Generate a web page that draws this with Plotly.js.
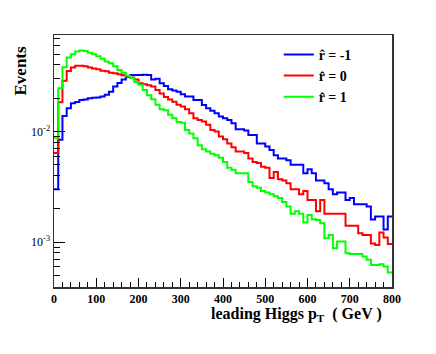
<!DOCTYPE html>
<html>
<head>
<meta charset="utf-8">
<script src="https://cdn.plot.ly/plotly-3.0.1.min.js"></script>
<style>
  html, body { margin: 0; padding: 0; background: #fff; }
  #plot { width: 436px; height: 354px; }
</style>
</head>
<body>
<div id="plot"></div>
<script>
// leading Higgs pT, 10 GeV bins from 0 to 800
const binWidth = 10;

const rMinus1 = [
  0.0030, 0.0084, 0.0138, 0.0162, 0.0180, 0.0185, 0.0193, 0.0195, 0.0200, 0.0202,
  0.0203, 0.0207, 0.0215, 0.0229, 0.0255, 0.0275, 0.0296, 0.0313, 0.0324, 0.0324,
  0.0324, 0.0326, 0.0324, 0.0296, 0.0300, 0.0273, 0.0258, 0.0241, 0.0235, 0.0229,
  0.0217, 0.0207, 0.0207, 0.0193, 0.0193, 0.0174, 0.0162, 0.0154, 0.0146, 0.0137,
  0.0132, 0.0127, 0.0119, 0.0105, 0.0105, 0.0102, 0.0093, 0.0093, 0.0078, 0.0078,
  0.0073, 0.0068, 0.0061, 0.0057, 0.0057, 0.0055, 0.0050, 0.0050, 0.0050, 0.0042,
  0.00455, 0.0042, 0.0036, 0.0036, 0.0034, 0.0030, 0.0027, 0.0028, 0.0028, 0.0024,
  0.0025, 0.0022, 0.0022, 0.0022, 0.0021, 0.0016, 0.0017, 0.0017, 0.0013, 0.0017
];

const rZero = [
  0.0064, 0.0184, 0.0288, 0.0353, 0.0380, 0.0394, 0.0394, 0.0390, 0.0380, 0.0372,
  0.0365, 0.0355, 0.0350, 0.0340, 0.0337, 0.0330, 0.0322, 0.0315, 0.0308, 0.0296,
  0.0273, 0.0268, 0.0262, 0.0255, 0.0237, 0.0221, 0.0205, 0.0195, 0.0186, 0.0175,
  0.0168, 0.0159, 0.0146, 0.0132, 0.0127, 0.0123, 0.0115, 0.0103, 0.0100, 0.0090,
  0.0085, 0.0078, 0.0072, 0.0066, 0.0066, 0.0064, 0.0057, 0.0053, 0.0052, 0.0048,
  0.0047, 0.0038, 0.0043, 0.0037, 0.0036, 0.0034, 0.0030, 0.0030, 0.0027, 0.0029,
  0.0024, 0.0024, 0.0019, 0.0024, 0.0018, 0.0018, 0.0018, 0.0018, 0.0018, 0.0014,
  0.0014, 0.0014, 0.0012, 0.00116, 0.00116, 0.00097, 0.00094, 0.00122, 0.0011, 0.00096
];

const rPlus1 = [
  0.0088, 0.0246, 0.0381, 0.0466, 0.0500, 0.0530, 0.0540, 0.0535, 0.0515, 0.0500,
  0.0480, 0.0455, 0.0430, 0.0414, 0.0390, 0.0360, 0.0340, 0.0320, 0.0305, 0.0280,
  0.0265, 0.0237, 0.0213, 0.0196, 0.0175, 0.0159, 0.0156, 0.0142, 0.0132, 0.0122,
  0.0120, 0.0103, 0.0096, 0.0087, 0.0075, 0.0069, 0.0066, 0.0063, 0.0061, 0.0058,
  0.0053, 0.0047, 0.0045, 0.0042, 0.0042, 0.0042, 0.0035, 0.0032, 0.0031, 0.0029,
  0.0028, 0.0027, 0.0026, 0.0025, 0.0023, 0.0021, 0.0018, 0.0019, 0.0018, 0.0015,
  0.00176, 0.00161, 0.00158, 0.00148, 0.00108, 0.00116, 0.00088, 0.00101, 0.00101, 0.00079,
  0.00078, 0.00078, 0.00078, 0.00074, 0.00069, 0.00062, 0.00062, 0.00063, 0.00060, 0.00053
];

const seriesNames = ["r\u0302 = -1", "r\u0302 = 0", "r\u0302 = 1"];
const seriesColors = ["#0000ff", "#ff0000", "#00ff00"];

const xTicks = [0, 100, 200, 300, 400, 500, 600, 700, 800];
const yTicks = [0.001, 0.01];
const yTickText = ["10<sup>-3</sup>", "10<sup>-2</sup>"];
const yMinor = [0.0004, 0.0005, 0.0006, 0.0007, 0.0008, 0.0009,
  0.002, 0.003, 0.004, 0.005, 0.006, 0.007, 0.008, 0.009,
  0.02, 0.03, 0.04, 0.05, 0.06, 0.07];

const font = "Liberation Serif, Times New Roman, serif";

// step outline: bin edges with the last value repeated
function stepTrace(vals, name, color) {
  const edges = vals.map((_, i) => i * binWidth).concat([vals.length * binWidth]);
  return {
    x: edges,
    y: vals.concat([vals[vals.length - 1]]),
    name: name,
    type: "scatter",
    mode: "lines",
    line: { shape: "hv", color: color, width: 2 },
  };
}

const data = [
  stepTrace(rMinus1, seriesNames[0], seriesColors[0]),
  stepTrace(rZero, seriesNames[1], seriesColors[1]),
  stepTrace(rPlus1, seriesNames[2], seriesColors[2]),
];

Plotly.newPlot("plot", data, {
  width: 436,
  height: 354,
  margin: { l: 54, r: 44, t: 35, b: 67 },
  paper_bgcolor: "#fff",
  plot_bgcolor: "#fff",
  font: { family: font, color: "#000" },
  showlegend: true,
  legend: {
    x: 0.665, y: 0.985, xanchor: "left", yanchor: "top",
    bgcolor: "rgba(255,255,255,0)",
    font: { family: font, size: 14, color: "#000", weight: "bold" },
    itemwidth: 30,
    tracegroupgap: 0,
    valign: "middle",
  },
  xaxis: {
    range: [0, 800],
    tickvals: xTicks,
    ticks: "inside", ticklen: 9, tickwidth: 1, tickcolor: "#000",
    minor: { dtick: 20, ticks: "inside", ticklen: 5, tickwidth: 1, tickcolor: "#000" },
    tickfont: { family: font, size: 12, weight: "bold" },
    showgrid: false, zeroline: false,
    showline: true, linecolor: "#333", linewidth: 1.5, mirror: true,
  },
  yaxis: {
    type: "log",
    range: [-3.407, -1.127],
    tickvals: yTicks,
    ticktext: yTickText,
    ticks: "inside", ticklen: 11, tickwidth: 1, tickcolor: "#000",
    minor: { tickmode: "array", tickvals: yMinor, ticks: "inside", ticklen: 6, tickwidth: 1, tickcolor: "#000" },
    tickfont: { family: font, size: 12 },
    showgrid: false, zeroline: false,
    showline: true, linecolor: "#333", linewidth: 1.5, mirror: true,
  },
  annotations: [
    {
      text: "leading Higgs p<sub>T</sub>  ( GeV )",
      xref: "paper", yref: "paper", x: 0.975, y: -0.065,
      xanchor: "right", yanchor: "top", showarrow: false,
      font: { family: font, size: 16, weight: "bold" },
    },
    {
      text: "Events",
      xref: "paper", yref: "paper", x: -0.1, y: 0.86,
      xanchor: "center", yanchor: "middle", textangle: -90, showarrow: false,
      font: { family: font, size: 17, weight: "bold" },
    },
  ],
}, { displayModeBar: false, staticPlot: true });
</script>
</body>
</html>
